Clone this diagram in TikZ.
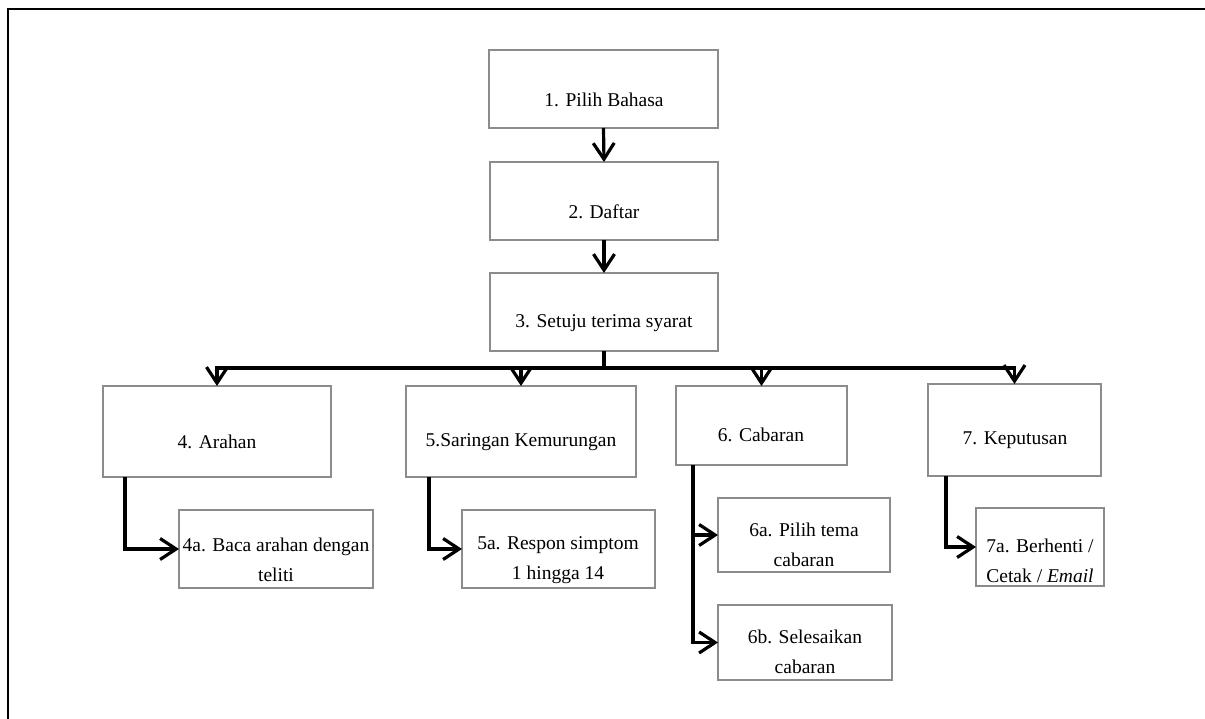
\documentclass[tikz,border=0pt]{standalone}
\usepackage{fontspec}
\setmainfont{Liberation Serif}
\usetikzlibrary{arrows.meta}
\definecolor{boxgray}{RGB}{140,140,140}
\tikzset{
  box/.style={draw=boxgray, line width=1.6pt, rectangle, inner sep=0pt, outer sep=0pt},
  lbl/.style={inner sep=0pt, align=center, font=\fontsize{19.5}{30}\selectfont},
  conn/.style={line width=3.2pt, black},
  arr/.style={-{Straight Barb[length=16pt,width=21pt,line width=3.2pt]}},
  frame/.style={line width=2.4pt, black}
}
\begin{document}
\begin{tikzpicture}[x=1pt,y=-1pt]
\useasboundingbox (0,0) rectangle (1205,719);
\draw[frame] (8,725) -- (8,9) -- (1210,9);

% boxes
\node[box, minimum width=229pt, minimum height=78pt] (b1) at (603.5,89) {};
\node[box, minimum width=228pt, minimum height=78pt] (b2) at (604,201) {};
\node[box, minimum width=228pt, minimum height=78pt] (b3) at (604,312) {};
\node[box, minimum width=228pt, minimum height=91pt] (b4) at (217,431.5) {};
\node[box, minimum width=230pt, minimum height=91pt] (b5) at (521,431.5) {};
\node[box, minimum width=171pt, minimum height=79pt] (b6) at (761.5,425.5) {};
\node[box, minimum width=173pt, minimum height=92pt] (b7) at (1014.5,430) {};
\node[box, minimum width=194pt, minimum height=78pt] (b4a) at (276,549) {};
\node[box, minimum width=193pt, minimum height=78pt] (b5a) at (558.5,549) {};
\node[box, minimum width=172pt, minimum height=74pt] (b6a) at (804,535) {};
\node[box, minimum width=174pt, minimum height=75pt] (b6b) at (805,642.5) {};
\node[box, minimum width=128pt, minimum height=78pt] (b7a) at (1040,547) {};

% labels
\node[lbl] (t1) at (604,100) {1. Pilih Bahasa};
\node[lbl] (t2) at (604,212) {2. Daftar};
\node[lbl] (t3) at (604,323) {3. Setuju terima syarat};
\node[lbl] (t4) at (217,442) {4. Arahan};
\node[lbl] (t5) at (521,442) {5.Saringan Kemurungan};
\node[lbl] (t6) at (761,435) {6. Cabaran};
\node[lbl] (t7) at (1015,440) {7. Keputusan};
\node[lbl] (t4a) at (276,560) {4a. Baca arahan dengan\\teliti};
\node[lbl] (t5a) at (558,560) {5a. Respon simptom\\1 hingga 14};
\node[lbl] (t6a) at (804,545) {6a. Pilih tema\\cabaran};
\node[lbl] (t6b) at (805,652) {6b. Selesaikan\\cabaran};
\node[lbl] (t7a) at (1040,561) {7a. Berhenti /\\Cetak / \textit{Email}};

% connectors
\draw[conn,arr] (b1.south) -- (b2.north);
\draw[conn,arr] (b2.south) -- (b3.north);
\coordinate (hub) at (604,368);
\draw[conn] (b3.south) -- (hub);
\draw[conn,arr] (hub) -| (b4.north);
\draw[conn,arr] (hub) -| (b5.north);
\draw[conn,arr] (hub) -| (b6.north);
\draw[conn,arr] (hub) -| (b7.north);

\coordinate (s4) at (125,477);
\coordinate (s5) at (429,477);
\coordinate (s6) at (693,465);
\coordinate (s7) at (946,476);
\draw[conn,arr] (s4) |- (b4a.west);
\draw[conn,arr] (s5) |- (b5a.west);
\draw[conn,arr] (s6) |- (b6a.west);
\draw[conn,arr] (s6) |- (b6b.west);
\draw[conn,arr] (s7) |- (b7a.west);
\end{tikzpicture}
\end{document}
